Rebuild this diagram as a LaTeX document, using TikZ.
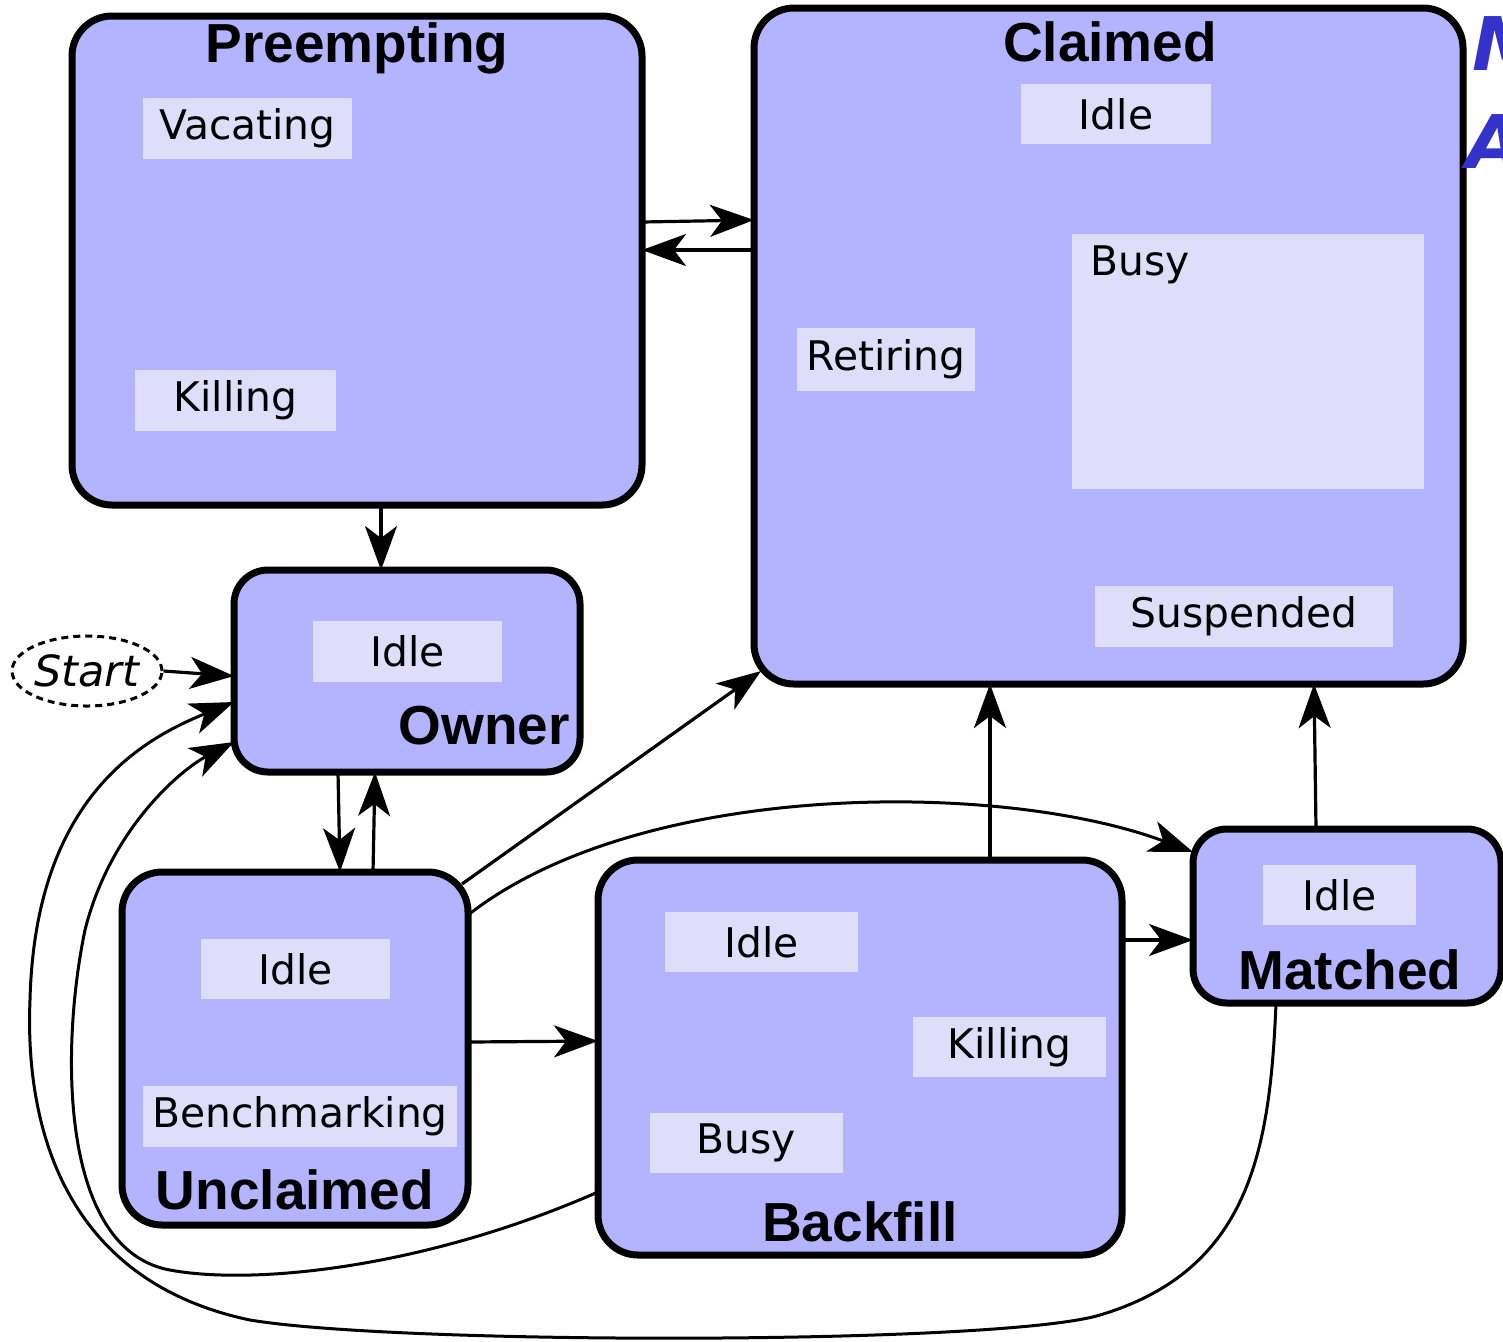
\documentclass[tikz,border=0pt]{standalone}
\usepackage{fontspec}
\setmainfont{DejaVu Sans}
\newfontfamily\ttlfont{Liberation Sans}
\usetikzlibrary{arrows.meta,shapes.geometric}
\definecolor{boxfill}{HTML}{B3B3FF}
\definecolor{subfill}{HTML}{DEDEFA}
\definecolor{handblue}{HTML}{3333CC}
\tikzset{
  statebox/.style={draw=black, line width=3.5pt, fill=boxfill, rounded corners=20pt, anchor=north west, inner sep=0pt, outer sep=0pt},
  subbox/.style={fill=subfill, draw=none, anchor=north west, inner sep=0pt, outer sep=0pt, font=\fontsize{20.4}{24}\selectfont},
  ttl/.style={font=\ttlfont\bfseries\fontsize{27.5}{30}\selectfont, inner sep=0pt},
  arr/.style={line width=1.6pt, -{Stealth[length=22pt, width=16pt, inset=6pt]}},
  carr/.style={line width=1.5pt, -{Stealth[length=22pt, width=16pt, inset=6pt]}},
}
\begin{document}
\begin{tikzpicture}[x=0.5pt, y=-0.5pt]
\clip (0,0) rectangle (1503,1341);
\useasboundingbox (0,0) rectangle (1503,1341);
% state boxes
\node[statebox, minimum width=285pt, minimum height=244.5pt] (pre) at (72,16) {};
\node[statebox, minimum width=354.5pt, minimum height=338pt] (cl) at (754,8) {};
\node[statebox, minimum width=173pt, minimum height=101pt, rounded corners=17pt] (own) at (234,570) {};
\node[statebox, minimum width=173pt, minimum height=176.5pt] (unc) at (122,872) {};
\node[statebox, minimum width=262pt, minimum height=197.5pt] (bf) at (598,860) {};
\node[statebox, minimum width=154pt, minimum height=87pt, rounded corners=17pt] (mat) at (1193,829) {};
% titles
\node[ttl] (pret) at (357,48) {Preempting};
\node[ttl] (clt) at (1110,42) {Claimed};
\node[ttl, anchor=east] (ownt) at (570,726) {Owner};
\node[ttl] (unct) at (295,1190) {Unclaimed};
\node[ttl] (bft) at (860,1222) {Backfill};
\node[ttl] (matt) at (1350,970) {Matched};
% sub states
\node[subbox, minimum width=104.5pt, minimum height=30.5pt] (pvac) at (143,98) {Vacating};
\node[subbox, minimum width=100.5pt, minimum height=30.5pt] (pkil) at (135,370) {Killing};
\node[subbox, minimum width=95pt, minimum height=30pt] (cidle) at (1021,84) {Idle};
\node[subbox, minimum width=176pt, minimum height=127.5pt] (cbusy) at (1072,234) {};
\node[anchor=west, inner sep=0pt, font=\fontsize{20.4}{24}\selectfont] (cbusyt) at (1090,265) {Busy};
\node[subbox, minimum width=89pt, minimum height=31.5pt] (cret) at (797,328) {Retiring};
\node[subbox, minimum width=149pt, minimum height=30.5pt] (csus) at (1095,586) {Suspended};
\node[subbox, minimum width=94.5pt, minimum height=30.5pt] (oidle) at (313,621) {Idle};
\node[subbox, minimum width=94.5pt, minimum height=30pt] (uidle) at (201,939) {Idle};
\node[subbox, minimum width=157pt, minimum height=30.5pt] (ubench) at (143,1086) {Benchmarking};
\node[subbox, minimum width=96.5pt, minimum height=30pt] (bidle) at (665,912) {Idle};
\node[subbox, minimum width=96.5pt, minimum height=30pt] (bkil) at (913,1017) {Killing};
\node[subbox, minimum width=96.5pt, minimum height=30pt] (bbusy) at (650,1113) {Busy};
\node[subbox, minimum width=76.5pt, minimum height=30pt] (midle) at (1263,865) {Idle};
% start
\node[draw, ellipse, line width=1.5pt, dash pattern=on 3.5pt off 2.5pt, minimum width=75pt, minimum height=35pt, inner sep=0pt, font=\itshape\fontsize{21.5}{24}\selectfont] (start) at (87,671) {Start};
% blue cut-off text
\node[anchor=base west, inner sep=0pt, text=handblue, font=\bfseries\itshape\fontsize{37}{40}\selectfont] (bm) at (1472,70) {M};
\node[anchor=base west, inner sep=0pt, text=handblue, font=\bfseries\itshape\fontsize{37}{40}\selectfont] (ba) at (1466,168) {A};
% connectors
\draw[arr] (pre.east |- 0,222) -- (cl.west |- 0,220);
\draw[arr] (cl.west |- 0,250) -- (pre.east |- 0,250);
\draw[arr] (pre.south -| 381,0) -- (own.north -| 381,0);
\draw[arr] (start.east) -- (own.west |- 0,676);
\draw[arr] (own.south -| 338,0) -- (unc.north -| 340,0);
\draw[arr] (unc.north -| 373,0) -- (own.south -| 375,0);
\draw[arr] ([xshift=-3pt,yshift=-6pt]unc.north east) -- ([xshift=3.5pt,yshift=6.5pt]cl.south west);
\draw[carr] (unc.east |- 0,915) .. controls (640,780) and (1000,780) .. (mat.west |- 0,852);
\draw[arr] (unc.east |- 0,1042) -- (bf.west |- 0,1041);
\draw[arr] (bf.north -| 990,0) -- (cl.south -| 990,0);
\draw[arr] (bf.east |- 0,940) -- (mat.west |- 0,940);
\draw[arr] (mat.north -| 1316,0) -- (cl.south -| 1314,0);
\draw[carr] (bf.west |- 0,1192) .. controls (420,1270) and (250,1285) .. (170,1270)
  .. controls (60,1250) and (60,1050) .. (85,930)
  .. controls (110,830) and (180,770) .. (own.west |- 0,742);
\draw[carr] (mat.south -| 1276,0) .. controls (1270,1150) and (1250,1270) .. (1100,1315)
  .. controls (1000,1345) and (400,1345) .. (250,1320)
  .. controls (60,1280) and (25,1120) .. (30,1000)
  .. controls (35,800) and (140,740) .. (own.west |- 0,702);
\end{tikzpicture}
\end{document}
